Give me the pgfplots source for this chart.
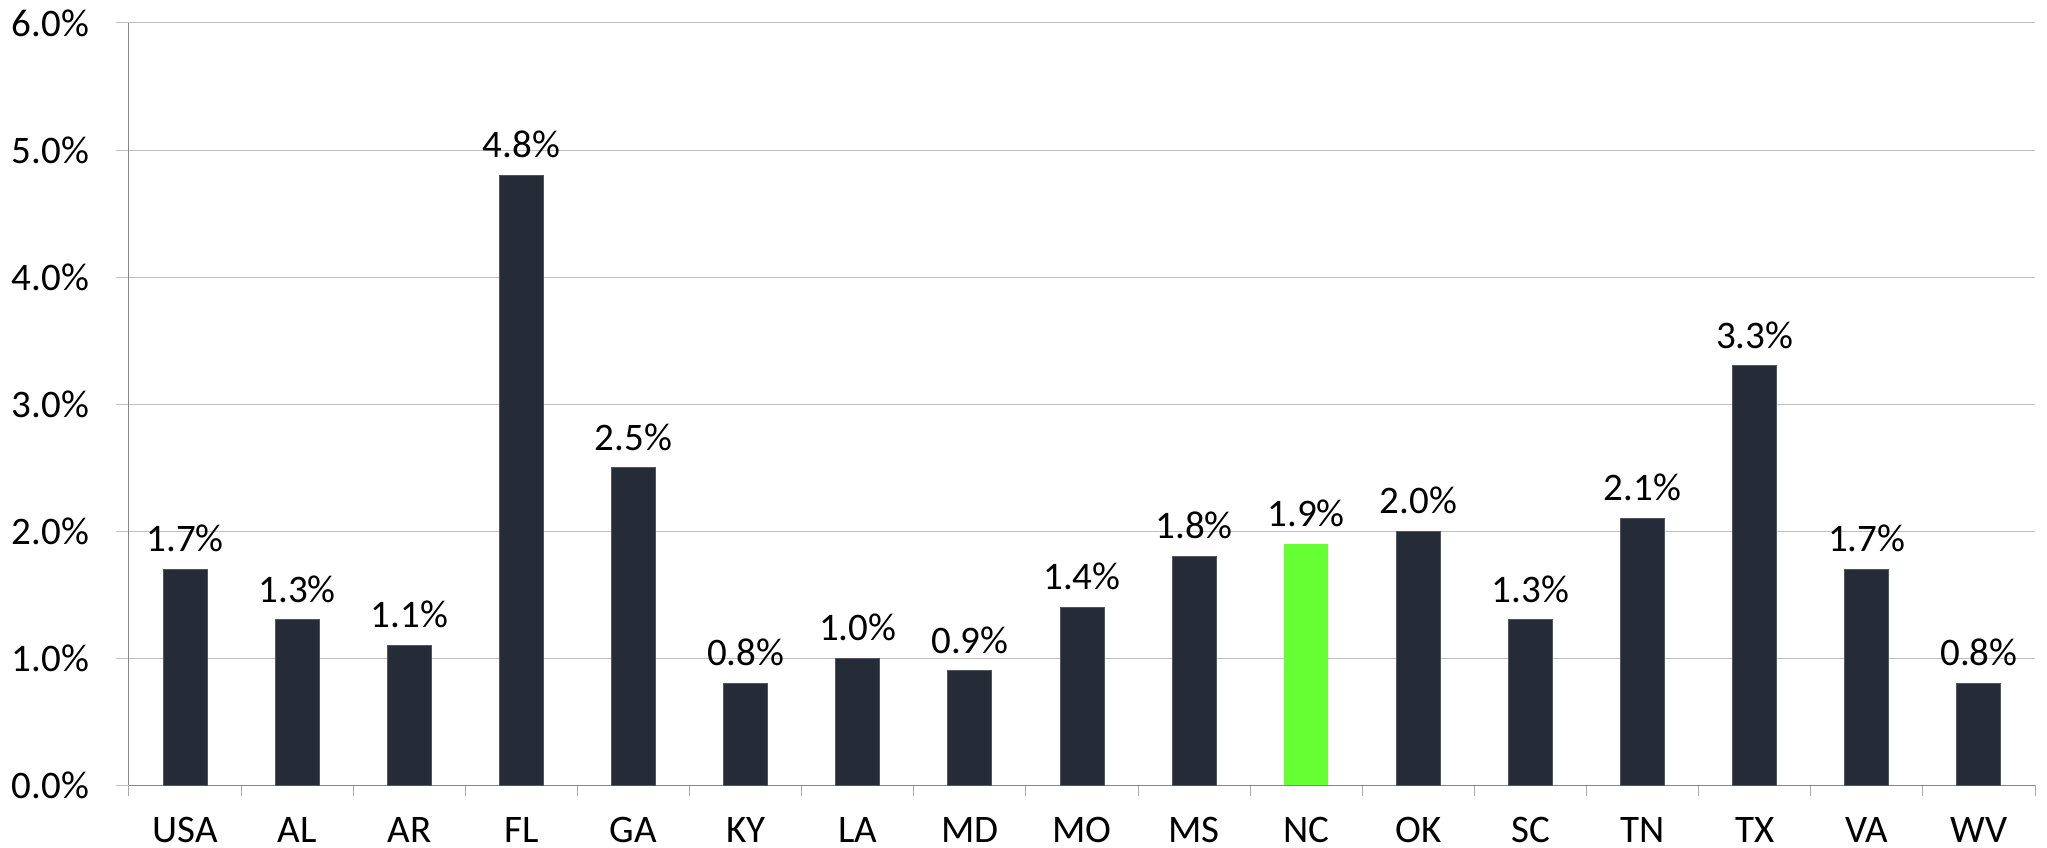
\documentclass[border=0pt]{standalone}
\usepackage{pgfplots}
\pgfplotsset{compat=1.18}
\usepackage{fontspec}
\setmainfont{Carlito}

\definecolor{barnavy}{RGB}{37,43,55}
\definecolor{ncgreen}{RGB}{102,255,51}
\definecolor{gridgray}{RGB}{191,191,191}
\definecolor{axisgray}{RGB}{134,134,134}

\begin{document}
\begin{tikzpicture}
\begin{axis}[
    at={(0,0)}, anchor=south west,
    width=953bp, height=381bp,
    scale only axis,
    ybar, bar width=22bp, bar shift=0pt,
    xmin=-0.5, xmax=16.5,
    ymin=0, ymax=6,
    axis x line*=bottom, axis y line*=left,
    axis line style={axisgray, line width=0.5bp},
    tick align=outside,
    xtick={0,...,16},
    xticklabels={USA,AL,AR,FL,GA,KY,LA,MD,MO,MS,NC,OK,SC,TN,TX,VA,WV},
    major x tick style={draw=none},
    minor xtick={-0.5,0.5,...,16.5},
    minor x tick style={axisgray!70, line width=0.5bp},
    minor tick length=5.5bp,
    ytick={0,1,...,6},
    major y tick style={gridgray, line width=0.5bp},
    major tick length=6.5bp,
    ymajorgrids,
    grid style={gridgray, line width=0.5bp},
    yticklabel={\pgfmathprintnumber[fixed,fixed zerofill,precision=1]{\tick}\%},
    /pgf/number format/assume math mode=true,
    ticklabel style={font=\fontsize{19.5bp}{23bp}\selectfont, text=black},
    xticklabel style={inner sep=0pt, yshift=-9.5bp},
    yticklabel style={xshift=-10bp},
    nodes near coords={\pgfmathprintnumber[fixed,fixed zerofill,precision=1]{\pgfplotspointmeta}\%},
    nodes near coords style={font=\fontsize{19.5bp}{23bp}\selectfont, text=black, yshift=5bp},
    clip=false,
]
\addplot[fill=barnavy, draw=barnavy!80!white, line width=0.5bp] coordinates {
    (0,1.7) (1,1.3) (2,1.1) (3,4.8) (4,2.5) (5,0.8) (6,1.0) (7,0.9)
    (8,1.4) (9,1.8) (11,2.0) (12,1.3) (13,2.1) (14,3.3) (15,1.7) (16,0.8)
};
\addplot[fill=ncgreen, draw=none] coordinates {(10,1.9)};
\end{axis}
\path[use as bounding box] (-64.5bp,-31.5bp) rectangle (959bp,392.5bp);
\end{tikzpicture}
\end{document}
